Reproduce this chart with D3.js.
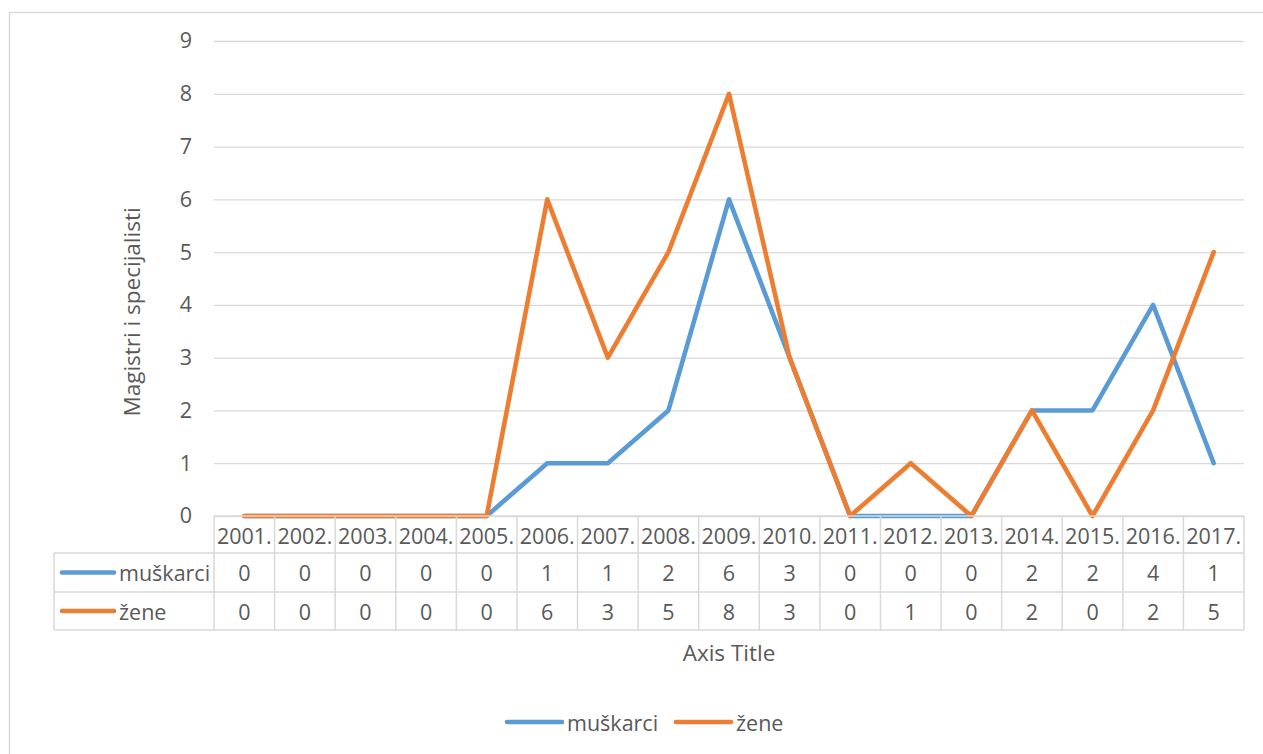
<!DOCTYPE html>
<html>
<head>
<meta charset="utf-8">
<script src="https://cdn.jsdelivr.net/npm/d3@7"></script>
<style>
  html, body { margin: 0; padding: 0; background: #fff; }
  svg { display: block; }
  text { font-family: "Open Sans", "Noto Sans", sans-serif; fill: #595959; }
</style>
</head>
<body>
<svg id="chart" width="1263" height="754"></svg>
<script>
// Chart data
const years = ["2001.", "2002.", "2003.", "2004.", "2005.", "2006.", "2007.", "2008.", "2009.",
               "2010.", "2011.", "2012.", "2013.", "2014.", "2015.", "2016.", "2017."];
const muskarci = [0, 0, 0, 0, 0, 1, 1, 2, 6, 3, 0, 0, 0, 2, 2, 4, 1];
const zene     = [0, 0, 0, 0, 0, 6, 3, 5, 8, 3, 0, 1, 0, 2, 0, 2, 5];
const seriesNames = ["muškarci", "žene"];
const yTicks = [0, 1, 2, 3, 4, 5, 6, 7, 8, 9];
const yAxisTitle = "Magistri i specijalisti";
const xAxisTitle = "Axis Title";

const series = [
  { name: seriesNames[0], values: muskarci, color: "#5B9BD5" },
  { name: seriesNames[1], values: zene, color: "#ED7D31" }
];

const svg = d3.select("#chart");
const gridColor = "#d9d9d9";
const fontSize = 21.5;
const titleSize = 22.5;
const lineWidth = 4.6;

// Chart frame
svg.append("rect")
  .attr("x", 9.5).attr("y", 12.5)
  .attr("width", 1300).attr("height", 800)
  .attr("fill", "none").attr("stroke", gridColor).attr("stroke-width", 1.5);

const plot = { left: 214, right: 1244, top: 41, bottom: 516 };

const x = d3.scaleBand().domain(years).range([plot.left, plot.right]).padding(0);
const y = d3.scaleLinear().domain([0, 9]).range([plot.bottom, plot.top]);
const cx = d => x(d) + x.bandwidth() / 2;

// Horizontal gridlines and value axis labels
const yAxis = d3.axisLeft(y).tickValues(yTicks).tickSize(-(plot.right - plot.left)).tickPadding(22);
const gy = svg.append("g").attr("transform", `translate(${plot.left},0)`).call(yAxis);
gy.select(".domain").remove();
gy.selectAll(".tick line").attr("stroke", gridColor).attr("stroke-width", 1.3);
gy.selectAll(".tick text")
  .attr("font-size", fontSize).attr("fill", "#595959")
  .style("font-family", '"Open Sans", sans-serif');

// Series lines
const line = d3.line()
  .x((d, i) => cx(years[i]))
  .y(d => y(d));

// Orange is drawn after blue so it sits on top where values coincide
series.forEach(s => {
  svg.append("path")
    .datum(s.values)
    .attr("d", line)
    .attr("fill", "none")
    .attr("stroke", s.color)
    .attr("stroke-width", lineWidth)
    .attr("stroke-linejoin", "round")
    .attr("stroke-linecap", "round");
});

// Data table beneath the plot
const rowEdges = [plot.bottom, 553, 592, 630];
const tableLeft = 54;
const tbl = svg.append("g");

// horizontal rules
tbl.append("line").attr("x1", plot.left).attr("x2", plot.right)
  .attr("y1", rowEdges[0]).attr("y2", rowEdges[0]);
[1, 2, 3].forEach(r => {
  tbl.append("line").attr("x1", tableLeft).attr("x2", plot.right)
    .attr("y1", rowEdges[r]).attr("y2", rowEdges[r]);
});
// vertical rules
const colEdges = years.map(d => x(d)).concat([plot.right]);
colEdges.forEach(xe => {
  tbl.append("line").attr("x1", xe).attr("x2", xe)
    .attr("y1", rowEdges[0]).attr("y2", rowEdges[3]);
});
tbl.append("line").attr("x1", tableLeft).attr("x2", tableLeft)
  .attr("y1", rowEdges[1]).attr("y2", rowEdges[3]);
tbl.selectAll("line").attr("stroke", gridColor).attr("stroke-width", 1.5);

// header: category labels
tbl.selectAll("text.cat").data(years).join("text")
  .attr("class", "cat")
  .attr("x", d => cx(d))
  .attr("y", (rowEdges[0] + rowEdges[1]) / 2 + 1)
  .attr("text-anchor", "middle").attr("dominant-baseline", "central")
  .attr("font-size", fontSize)
  .text(d => d);

// value rows with legend keys
series.forEach((s, r) => {
  const yMid = (rowEdges[r + 1] + rowEdges[r + 2]) / 2;
  tbl.append("line")
    .attr("x1", 62).attr("x2", 114).attr("y1", yMid).attr("y2", yMid)
    .attr("stroke", s.color).attr("stroke-width", lineWidth).attr("stroke-linecap", "round");
  tbl.append("text")
    .attr("x", 119).attr("y", yMid)
    .attr("dominant-baseline", "central")
    .attr("font-size", fontSize)
    .text(s.name);
  tbl.selectAll(null).data(s.values).join("text")
    .attr("x", (d, i) => cx(years[i]))
    .attr("y", yMid)
    .attr("text-anchor", "middle").attr("dominant-baseline", "central")
    .attr("font-size", fontSize)
    .text(d => d);
});

// Axis titles
svg.append("text")
  .attr("x", (plot.left + plot.right) / 2).attr("y", 652)
  .attr("text-anchor", "middle").attr("dominant-baseline", "central")
  .attr("font-size", titleSize)
  .text(xAxisTitle);

svg.append("text")
  .attr("transform", `translate(131,312) rotate(-90)`)
  .attr("text-anchor", "middle").attr("dominant-baseline", "central")
  .attr("font-size", titleSize)
  .text(yAxisTitle);

// Legend
const legend = svg.append("g");
const legendPos = [507, 676];
series.forEach((s, i) => {
  const lx = legendPos[i];
  legend.append("line")
    .attr("x1", lx).attr("x2", lx + 55).attr("y1", 722).attr("y2", 722)
    .attr("stroke", s.color).attr("stroke-width", lineWidth).attr("stroke-linecap", "round");
  legend.append("text")
    .attr("x", lx + 60).attr("y", 722)
    .attr("dominant-baseline", "central")
    .attr("font-size", fontSize)
    .text(s.name);
});
</script>
</body>
</html>
